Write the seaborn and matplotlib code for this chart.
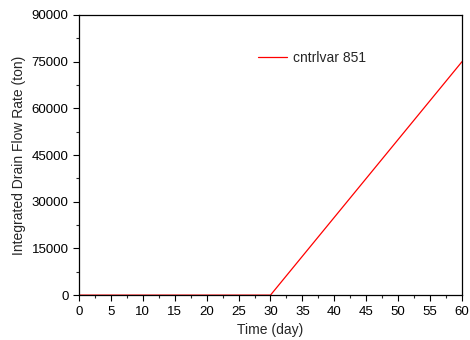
import matplotlib
matplotlib.use("Agg")
import matplotlib.pyplot as plt
from matplotlib.ticker import MultipleLocator
import seaborn as sns
import pandas as pd

# data
time_day = [0, 10, 20, 30, 40, 50, 60]
drain_ton = [0, 0, 0, 0, 25000, 50000, 75000]
series_name = "cntrlvar 851"

sns.set_style("white")
plt.rcParams['font.family'] = ['Liberation Sans', 'DejaVu Sans']

df = pd.DataFrame({"time": time_day, "drain": drain_ton, "series": series_name})

fig = plt.figure(figsize=(4.7, 3.4), dpi=100)
ax = fig.add_axes([0.168, 0.132, 0.815, 0.824])

sns.lineplot(data=df, x="time", y="drain", hue="series", palette=["red"],
             linewidth=0.9, ax=ax)

ax.set_xlim(0, 60)
ax.set_ylim(0, 90000)
ax.xaxis.set_major_locator(MultipleLocator(5))
ax.xaxis.set_minor_locator(MultipleLocator(2.5))
ax.yaxis.set_major_locator(MultipleLocator(15000))
ax.yaxis.set_minor_locator(MultipleLocator(7500))
ax.tick_params(which="major", direction="out", length=4, width=0.8,
               labelsize=9.5, bottom=True, left=True, colors="black")
ax.tick_params(which="minor", direction="out", length=2, width=0.8,
               bottom=True, left=True)

for s in ax.spines.values():
    s.set_color("black")
    s.set_linewidth(0.9)

ax.set_xlabel("Time (day)", fontsize=10)
ax.set_ylabel("Integrated Drain Flow Rate (ton)", fontsize=10)

leg = ax.legend(loc="upper left", bbox_to_anchor=(0.435, 0.915), frameon=False,
                fontsize=10, handlelength=2.1, handletextpad=0.4, title=None)

fig.savefig("out.png", dpi=100)
